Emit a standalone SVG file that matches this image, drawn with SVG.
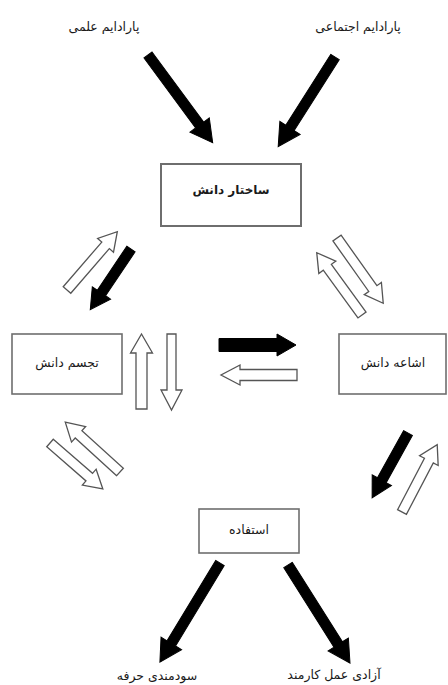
<svg xmlns="http://www.w3.org/2000/svg" width="448" height="685" viewBox="0 0 448 685">
<style>
.box{fill:#fff;stroke:#6e6e6e;stroke-width:1.6}
.t{font-family:"DejaVu Sans","Noto Sans",sans-serif;font-size:12.5px;fill:#1a1a1a;text-anchor:middle}
.b{font-weight:bold;font-size:12px}
.blk{fill:#000;stroke:#000;stroke-width:1;stroke-linejoin:miter}
.hol{fill:#fff;stroke:#555;stroke-width:1.3;stroke-linejoin:miter}
</style>
<rect width="448" height="685" fill="#fff"/>
<g id="label-elmi"><text class="t" x="104" y="31">پارادایم علمی</text></g>
<g id="label-ejtemai"><text class="t" x="358" y="31">پارادایم اجتماعی</text></g>
<g id="node-sakhtar"><rect class="box" x="161" y="164" width="140" height="62" style="stroke-width:2"/><text class="t b" x="231" y="194">ساختار دانش</text></g>
<g id="node-tajassom"><rect class="box" x="12" y="334" width="110" height="60"/><text class="t" x="67" y="367">تجسم دانش</text></g>
<g id="node-eshae"><rect class="box" x="339" y="334" width="107" height="60"/><text class="t" x="393" y="367">اشاعه دانش</text></g>
<g id="node-estefade"><rect class="box" x="199" y="509" width="100" height="44"/><text class="t" x="249" y="534">استفاده</text></g>
<g id="label-sudmandi"><text class="t" x="157" y="680">سودمندی حرفه</text></g>
<g id="label-azadi"><text class="t" x="334" y="679">آزادی عمل کارمند</text></g>
<g id="connectors">
<path class="blk" transform="translate(148,55) rotate(53.6)" d="M0,-5H87V-12L109,0L87,12V5H0Z"/>
<path class="blk" transform="translate(335,57) rotate(122.4)" d="M0,-5H84V-12L106,0L84,12V5H0Z"/>
<path class="blk" transform="translate(131,249) rotate(123.9)" d="M0,-5H53V-11L73,0L53,11V5H0Z"/>
<path class="hol" transform="translate(67,290) rotate(-49.2)" d="M0,-5H59V-10.5L77,0L59,10.5V5H0Z"/>
<path class="hol" transform="translate(337,238) rotate(54.7)" d="M0,-5H62V-10.5L80,0L62,10.5V5H0Z"/>
<path class="hol" transform="translate(362,315) rotate(-126)" d="M0,-5H59V-10.5L77,0L59,10.5V5H0Z"/>
<path class="hol" d="M136,409V353H130.5L141.5,334L152.5,353H147V409Z"/>
<path class="hol" d="M167,334V390H161L171.5,410L182,390H176V334Z"/>
<path class="blk" d="M219,338.5H277V334L296,345L277,356V351.5H219Z"/>
<path class="hol" d="M297,369.5H240V365L221,375L240,385V380.5H297Z"/>
<path class="hol" transform="translate(120,472) rotate(-137.7)" d="M0,-5H56V-10.5L74,0L56,10.5V5H0Z"/>
<path class="hol" transform="translate(50,443) rotate(41)" d="M0,-5H52V-10.5L70,0L52,10.5V5H0Z"/>
<path class="blk" transform="translate(408,433) rotate(119)" d="M0,-5H54V-11L74,0L54,11V5H0Z"/>
<path class="hol" transform="translate(402,512) rotate(-62.4)" d="M0,-5H58V-10.5L76,0L58,10.5V5H0Z"/>
<path class="blk" transform="translate(220,563) rotate(121.2)" d="M0,-5H94V-12L116,0L94,12V5H0Z"/>
<path class="blk" transform="translate(288,565) rotate(57.7)" d="M0,-5H94V-12L116,0L94,12V5H0Z"/>
</g>
</svg>
